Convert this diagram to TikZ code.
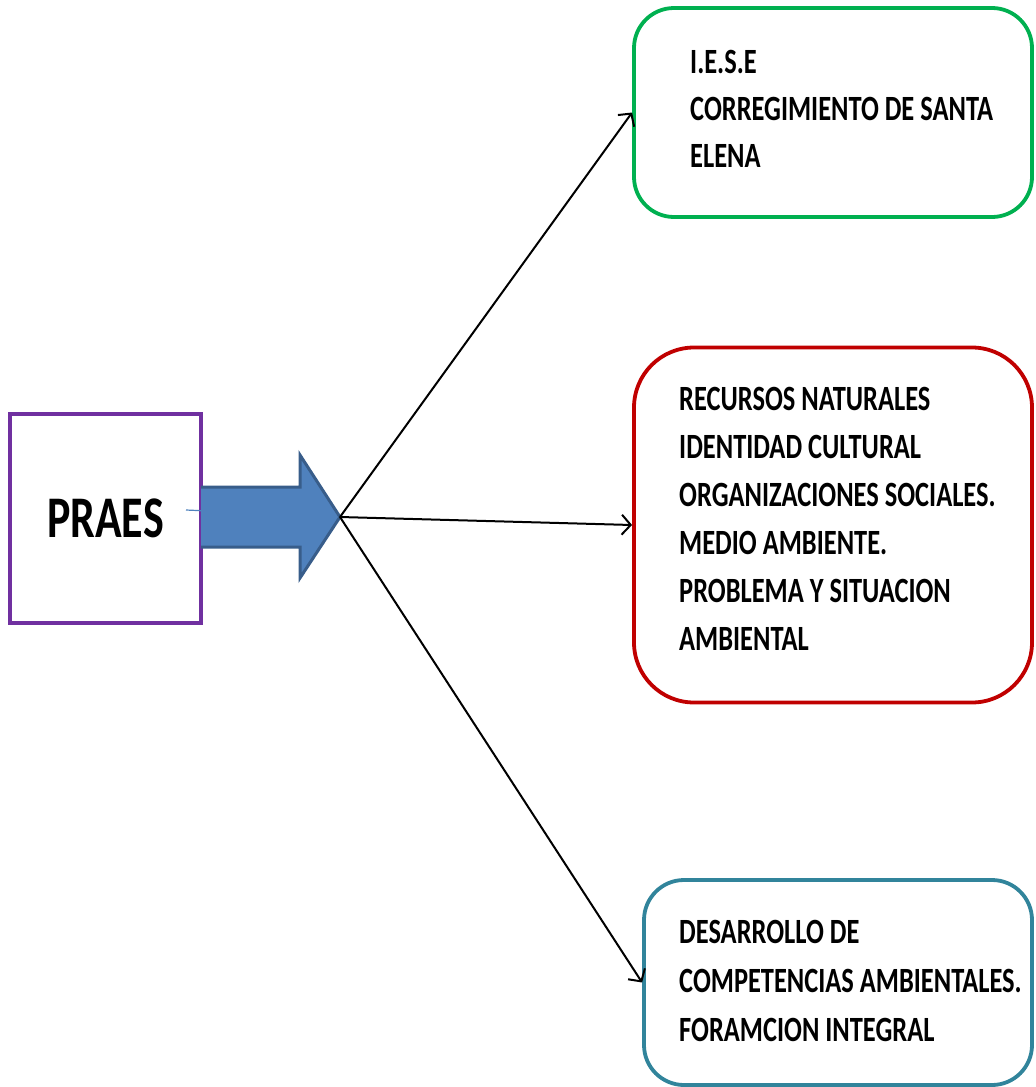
\documentclass[tikz,border=0pt]{standalone}
\usepackage{fontspec}
\setmainfont{Carlito}
\newfontfamily\cb[FakeStretch=0.745]{Carlito}
\usetikzlibrary{arrows.meta}
\definecolor{cpurple}{HTML}{7030A0}
\definecolor{cblue}{HTML}{4F81BD}
\definecolor{cbluedk}{HTML}{385D8A}
\definecolor{cgreen}{HTML}{00B050}
\definecolor{cred}{HTML}{C00000}
\definecolor{cteal}{HTML}{31849B}
\tikzset{
  x=1pt, y=-1pt,
  rbox/.style={draw, line width=3.8pt, rectangle, inner sep=0pt},
  btext/.style={anchor=north west, inner sep=0pt, align=left, font=\cb\bfseries\fontsize{35.5}{48}\selectfont},
  conn/.style={line width=2pt, black, -{Straight Barb[length=9pt,width=20pt,line width=2pt]}}
}
\begin{document}
\begin{tikzpicture}
\useasboundingbox (0,0) rectangle (1036,1087);
% PRAES box
\node[rbox, draw=cpurple, line width=3.2pt, minimum width=191pt, minimum height=209pt,
      font=\cb\bfseries\fontsize{59}{60}\selectfont] (praes) at (105.5,518.5) {PRAES};
% target boxes
\node[rbox, draw=cgreen, rounded corners=40pt, minimum width=398pt, minimum height=209pt] (g) at (833,112.5) {};
\node[rbox, draw=cred, rounded corners=60pt, minimum width=398pt, minimum height=355pt] (r) at (833,525) {};
\node[rbox, draw=cteal, rounded corners=40pt, minimum width=388pt, minimum height=205pt] (t) at (838,982.5) {};
% texts
\node[btext, font=\cb\bfseries\fontsize{35.5}{47}\selectfont] (gt) at (690,50) {I.E.S.E\\CORREGIMIENTO DE SANTA\\ELENA};
\node[btext] (rt) at (679,387) {RECURSOS NATURALES\\IDENTIDAD CULTURAL\\ORGANIZACIONES SOCIALES.\\MEDIO AMBIENTE.\\PROBLEMA Y SITUACION\\AMBIENTAL};
\node[btext, font=\cb\bfseries\fontsize{35.5}{49}\selectfont] (tt) at (679,920) {DESARROLLO DE\\COMPETENCIAS AMBIENTALES.\\FORAMCION INTEGRAL};
% thin blue connector behind the block arrow
\coordinate (bs) at (186,510);
\coordinate (tip) at (340,517);
\draw[cblue, line width=1.2pt, -{Straight Barb[length=6pt,width=14pt]}] (bs) -- (tip);
% block arrow
\draw[fill=cblue, draw=cbluedk, line width=3pt, line join=miter]
  (201,487) -- (300,487) -- (300,455) -- (tip) -- (300,578) -- (300,547) -- (201,547);
% connectors
\draw[conn] (tip) -- (g.west);
\draw[conn] (tip) -- (r.west);
\draw[conn] (tip) -- (t.west);
\end{tikzpicture}
\end{document}
